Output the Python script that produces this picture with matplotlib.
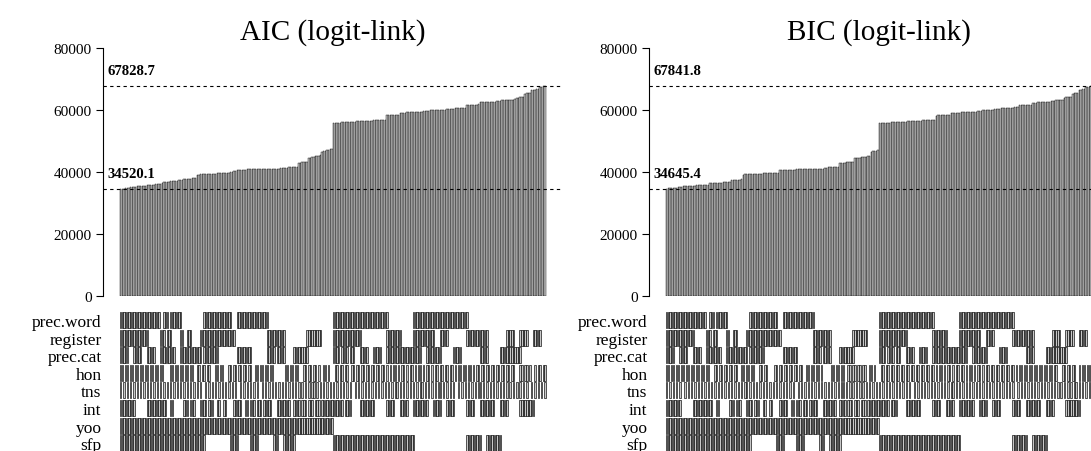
import numpy as np
import matplotlib
matplotlib.use("Agg")
import matplotlib.pyplot as plt

# --- 1. Data ---
aic = [
    34520.1, 34580, 34650, 34700, 34760, 34830, 35150, 35210, 35260, 35300, 35340, 35390, 35520, 35560, 35600, 35640,
    35680, 35720, 35770, 35830, 35880, 36040, 36110, 36190, 36280, 36420, 36790, 36830, 36870, 36920, 36980, 37040,
    37100, 37150, 37210, 37260, 37310, 37580, 37640, 37700, 37760, 37820, 37880, 37940, 38010, 38060, 39120, 39180,
    39230, 39270, 39310, 39340, 39380, 39410, 39440, 39460, 39490, 39510, 39530, 39560, 39590, 39610, 39630, 39660,
    39700, 39730, 40020, 40110, 40200, 40290, 40510, 40580, 40640, 40700, 40750, 40790, 40830, 40870, 40910, 40960,
    40980, 41000, 41010, 41020, 41030, 41040, 41050, 41060, 41060, 41070, 41080, 41090, 41090, 41100, 41110, 41120,
    41130, 41140, 41150, 41160, 41170, 41480, 41520, 41550, 41580, 41610, 41640, 42950, 43010, 43080, 43150, 43240,
    43320, 44480, 44620, 44750, 44880, 45010, 45140, 45260, 45330, 46520, 46680, 46830, 46990, 47120, 47260, 47390,
    55780, 55820, 55860, 55900, 55940, 55980, 56010, 56050, 56080, 56120, 56160, 56190, 56230, 56260, 56300, 56330,
    56370, 56400, 56440, 56470, 56510, 56540, 56580, 56610, 56650, 56690, 56730, 56760, 56800, 56830, 56860, 56900,
    58240, 58280, 58320, 58350, 58380, 58420, 58450, 58490, 59070, 59110, 59150, 59180, 59210, 59250, 59280, 59310,
    59340, 59370, 59400, 59430, 59460, 59490, 59520, 59550, 59580, 59610, 59870, 59900, 59940, 59970, 60000, 60030,
    60060, 60090, 60120, 60150, 60180, 60210, 60240, 60270, 60300, 60590, 60620, 60650, 60680, 60710, 60740, 60770,
    61580, 61610, 61640, 61670, 61700, 61730, 61760, 61790, 62460, 62490, 62520, 62550, 62580, 62610, 62640, 62670,
    62700, 62730, 62760, 62790, 62820, 63150, 63180, 63210, 63240, 63270, 63300, 63330, 63360, 63390, 63980, 64020,
    64060, 64100, 64140, 65320, 65400, 65480, 65560, 66480, 66550, 66610, 66660, 66710, 67450, 67520, 67600, 67828.7,
]
bic = [
    34645.4, 34700, 34760, 34810, 34870, 34920, 34980, 35030, 35090, 35300, 35340, 35380, 35420, 35460, 35500, 35540,
    35580, 35610, 35650, 35690, 35720, 35750, 35780, 35800, 35830, 35860, 36310, 36350, 36390, 36430, 36470, 36510,
    36550, 36590, 36630, 36660, 36690, 36720, 36750, 37310, 37360, 37420, 37470, 37520, 37560, 37610, 39180, 39230,
    39260, 39290, 39320, 39350, 39370, 39400, 39420, 39450, 39470, 39490, 39520, 39540, 39570, 39590, 39620, 39640,
    39660, 39680, 39700, 39720, 40490, 40530, 40570, 40610, 40650, 40690, 40720, 40750, 40780, 40800, 40830, 40850,
    40870, 40890, 40910, 40930, 40940, 40950, 40960, 40970, 40980, 40990, 41000, 41010, 41020, 41030, 41040, 41420,
    41450, 41480, 41510, 41540, 41560, 41580, 41600, 41620, 42820, 42880, 42950, 43010, 43080, 43140, 43200, 43260,
    43310, 44420, 44500, 44580, 44660, 44740, 44820, 44900, 44980, 45050, 45120, 46520, 46640, 46760, 46880, 47000,
    55720, 55760, 55790, 55830, 55860, 55900, 55930, 55970, 56000, 56040, 56070, 56110, 56140, 56180, 56210, 56250,
    56280, 56320, 56350, 56390, 56420, 56460, 56490, 56530, 56560, 56600, 56630, 56670, 56700, 56730, 56760, 56790,
    56820, 56850, 58210, 58250, 58290, 58330, 58370, 58410, 58450, 58480, 58520, 59010, 59050, 59080, 59120, 59150,
    59190, 59220, 59250, 59290, 59320, 59350, 59390, 59420, 59450, 59480, 59510, 59540, 59570, 59600, 59900, 59940,
    59980, 60020, 60060, 60100, 60140, 60180, 60220, 60260, 60300, 60510, 60550, 60590, 60630, 60670, 60710, 60750,
    60790, 60830, 60870, 60900, 61520, 61560, 61600, 61640, 61670, 61700, 61720, 61750, 62320, 62360, 62400, 62440,
    62480, 62520, 62560, 62600, 62640, 62680, 62720, 62760, 62800, 63040, 63100, 63160, 63220, 63280, 63330, 64010,
    64080, 64150, 64220, 64290, 65230, 65360, 65480, 65600, 66420, 66550, 66680, 66800, 67320, 67450, 67580, 67841.8,
]

predictors = ["prec.word", "register", "prec.cat", "hon", "tns", "int", "yoo", "sfp"]

# inclusion of each predictor, as (first, last) model index ranges
prec_word_on = [(0, 23), (26, 28), (30, 36), (50, 66), (70, 88), (128, 160), (176, 208)]
register_on = [(0, 16), (24, 26), (28, 30), (36, 37), (40, 42), (48, 68), (88, 98), (112, 120),
               (128, 144), (160, 168), (176, 188), (192, 196), (208, 220), (232, 236), (240, 244), (248, 252)]
prec_cat_on = [(0, 4), (8, 12), (16, 20), (24, 32), (36, 48), (50, 58), (70, 78), (88, 92), (94, 98),
               (104, 112), (128, 131), (133, 136), (138, 140), (144, 148), (152, 156), (160, 180),
               (184, 192), (200, 204), (216, 220), (228, 240)]
int_on = [(0, 8), (16, 27), (30, 31), (38, 40), (42, 44), (48, 51), (53, 55), (58, 59), (62, 63),
          (68, 72), (75, 76), (78, 80), (82, 84), (86, 90), (94, 101), (104, 107), (109, 111),
          (113, 115), (117, 119), (121, 127), (128, 133), (135, 138), (144, 152), (160, 164),
          (168, 172), (176, 184), (188, 192), (196, 200), (208, 212), (216, 224), (228, 232), (240, 248)]
yoo_on = [(0, 127)]
sfp_on = [(0, 50), (66, 70), (78, 82), (92, 94), (98, 104), (128, 176), (208, 216), (220, 228)]

# the two fine-grained rows, one character per model
hon_aic = "".join([
    "11011011011011011011011011000011", "01101101101100110110110001101100",
    "01101101101101100110110110110000", "00011011011000110110110100110100",
    "01101101100110110110110110110110", "10101101011010110101101011010110",
    "11011011010110110110101101101101", "10110110110110001101101001011011",
])
tns_aic = "".join([
    "10101010101010101010101010101010", "10101010101010101001010101010101",
    "01010100101010101010010101010101", "01010101010101010101101010101010",
    "10101010101001010101010101010101", "01010110101010101010110101010101",
    "10101010100101010101010110101010", "10101010101010101010100101010101",
])
hon_bic = "".join([
    "11011011011011011011011011000110", "11011011011001101101100011011000",
    "01101101101101101100110110110100", "00011011011001101101101100110100",
    "01101101101101101101101101101101", "10101101011010110110101101011010",
    "11011011011011011010110110110110", "11011011011000110110110010110110",
])
tns_bic = "".join([
    "10101010100101010101010101010101", "01010101010101011010101010101010",
    "10101010101010010101010101010101", "01010101011010101010101010101010",
    "10101010101010101010010101010101", "01010101010110101010101010101010",
    "10101010101010101001010101010101", "01010101010101010101011010101010",
])

# --- 2. Helpers ---
N = len(aic)
models = np.arange(N)


def ranges_row(ranges):
    row = np.zeros(N, dtype=bool)
    for a, b in ranges:
        row[a:b + 1] = True
    return row


def string_row(s):
    assert len(s) == N, len(s)
    return np.array([c == "1" for c in s])


def build_matrix(hon, tns):
    return np.vstack([ranges_row(prec_word_on), ranges_row(register_on), ranges_row(prec_cat_on),
                      string_row(hon), string_row(tns), ranges_row(int_on),
                      ranges_row(yoo_on), ranges_row(sfp_on)])


plt.rcParams['font.family'] = ['Liberation Serif', 'DejaVu Serif']

W, H = 1091, 452
fig = plt.figure(figsize=(W / 100, H / 100), dpi=100)

BAR_GREY = "#c8c8c8"
BAR_LW = 0.3
CELL_LW = 0.45
PITCH = 1.664           # px per model
AX_W = 460              # px width of plot region
XLIM = (-10.7, -10.7 + AX_W / PITCH)
TOP, ZERO = 49, 297     # px rows of 80000 and 0


def draw_panel(x0, values, mat, title):
    values = np.asarray(values)
    # bar chart
    ax = fig.add_axes([x0 / W, 1 - ZERO / H, AX_W / W, (ZERO - TOP) / H])
    ax.bar(models, values, width=0.82, color=BAR_GREY, edgecolor="black", linewidth=BAR_LW)
    ax.set_xlim(*XLIM)
    ax.set_ylim(0, 80000)
    for s in ["top", "right", "bottom"]:
        ax.spines[s].set_visible(False)
    ax.spines["left"].set_bounds(0, 80000)
    ax.spines["left"].set_linewidth(0.8)
    ax.set_xticks([])
    ax.set_yticks([0, 20000, 40000, 60000, 80000])
    ax.tick_params(axis="y", length=5, width=0.8, pad=3, labelsize=11)
    ax.set_title(title, fontsize=21, pad=7)
    for v in (values.min(), values.max()):
        ax.axhline(v, color="black", lw=0.8, ls=(0, (3, 3)))
        ax.annotate(f"{v:.1f}", xy=(0, v + 5000), xycoords=("axes fraction", "data"),
                    xytext=(3, 0), textcoords="offset points",
                    fontsize=10.6, fontweight="bold", va="center", ha="left")

    # inclusion matrix (bottom row runs off the figure)
    mx = fig.add_axes([x0 / W, 1 - 453.8 / H, AX_W / W, 140.8 / H])
    for r in range(len(predictors)):
        on = models[mat[r]]
        mx.bar(on, 0.91, bottom=r, width=0.82, color=BAR_GREY, edgecolor="black",
               linewidth=CELL_LW, align="center")
    mx.set_xlim(*XLIM)
    mx.set_ylim(len(predictors), 0)
    for s in mx.spines.values():
        s.set_visible(False)
    mx.set_xticks([])
    mx.set_yticks(np.arange(len(predictors)) + 0.455)
    mx.set_yticklabels(predictors, fontsize=12.5)
    mx.tick_params(axis="y", length=0, pad=1)


# --- 3. Draw ---
draw_panel(103, aic, build_matrix(hon_aic, tns_aic), "AIC (logit-link)")
draw_panel(649, bic, build_matrix(hon_bic, tns_bic), "BIC (logit-link)")

fig.savefig("out.png", dpi=100)
